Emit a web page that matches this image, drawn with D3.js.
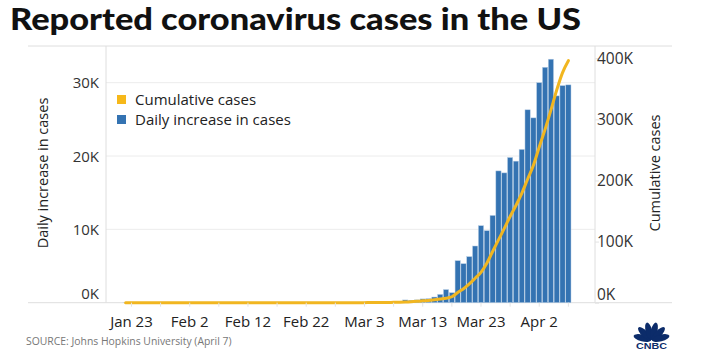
<!DOCTYPE html>
<html><head><meta charset="utf-8">
<script src="https://cdn.jsdelivr.net/npm/d3@7/dist/d3.min.js"></script>
<style>
html,body{margin:0;padding:0;background:#fff;}
svg{display:block;font-family:"Open Sans",Lato,sans-serif;}
</style></head><body>
<svg id="chart" width="701" height="359"></svg>
<script>
// ---- data ----
const startDate = "2020-01-22";
const dailyCases = [
  1,0,1,0,3,0,0,0,0,2,
  1,0,3,0,0,0,0,0,0,0,1,1,1,0,0,0,0,0,0,0,20,0,0,18,0,0,0,4,8,
  6,24,20,31,68,45,140,116,65,376,322,382,516,547,773,1133,1789,1362,
  5730,5320,6280,7730,10500,9820,11900,17970,17700,19800,19300,20900,26300,
  25200,30000,32100,33200,28200,29600,29700
];
const cumulativeCases = [
  1,1,2,2,5,5,5,5,5,7,
  8,8,11,11,11,11,11,11,11,11,12,12,13,13,13,13,13,13,13,13,35,35,35,53,53,53,53,57,65,
  80,100,120,150,220,300,420,560,700,1000,1500,2200,
  3000,3500,4700,6000,7300,9700,16700,22900,30700,40100,49700,64600,83800,102700,121600,141000,159000,178900,202000,
  225000,254800,283600,315000,348000,376500,396000
];
const leftTicks = [0,10000,20000,30000];
const rightTicks = [0,100000,200000,300000,400000];
const seriesNames = ["Cumulative cases","Daily increase in cases"];
const titleText = "Reported coronavirus cases in the US";
const sourceText = "SOURCE: Johns Hopkins University (April 7)";

// ---- setup ----
const svg = d3.select("#chart");
const parse = d3.timeParse("%Y-%m-%d");
const t0 = parse(startDate);
const dates = dailyCases.map((_, i) => d3.timeDay.offset(t0, i));
const fmt = d3.timeFormat("%b %-d");
const FONT = "'Open Sans', Lato, sans-serif";

const pTop = 46, pBottom = 302.7, pLeft = 106, pRight = 595;
const x = d3.scaleBand().domain(dates).range([123, 571]).paddingInner(0.1);
const yL = d3.scaleLinear().domain([0, 35000]).range([pBottom, pTop]);
const yR = d3.scaleLinear().domain([0, 420000]).range([pBottom, pTop]);
const kfmt = d => (d / 1000) + "K";
const gridC = "#dedede";

// title
svg.append("text").attr("x", 10).attr("y", 30)
  .attr("font-size", 30).attr("font-weight", 900).attr("fill", "#111")
  .attr("font-family", "Lato, sans-serif")
  .attr("textLength", 571).attr("lengthAdjust", "spacingAndGlyphs")
  .text(titleText);

// grid lines
svg.append("g").selectAll("line").data(leftTicks.filter(d => d > 0)).join("line")
  .attr("x1", pLeft).attr("x2", pRight)
  .attr("y1", d => yL(d)).attr("y2", d => yL(d))
  .attr("stroke", "#ececec").attr("stroke-width", 1);

// frame
const frame = svg.append("g").attr("stroke", gridC).attr("stroke-width", 1);
frame.append("line").attr("x1", 28).attr("x2", 672).attr("y1", pTop).attr("y2", pTop);
frame.append("line").attr("x1", 28).attr("x2", 672).attr("y1", pBottom).attr("y2", pBottom);
frame.append("line").attr("x1", pLeft).attr("x2", pLeft).attr("y1", pTop).attr("y2", pBottom);
frame.append("line").attr("x1", pRight).attr("x2", pRight).attr("y1", pTop).attr("y2", pBottom);

// bars
svg.append("g").selectAll("rect").data(dailyCases).join("rect")
  .attr("x", (d, i) => x(dates[i]))
  .attr("width", x.bandwidth())
  .attr("y", d => yL(d))
  .attr("height", d => pBottom - yL(d))
  .attr("fill", "#3473b2")
  .attr("stroke", "#b9cfe6").attr("stroke-width", 0.5);

// line
const line = d3.line()
  .x((d, i) => x(dates[i]) + x.bandwidth() / 2)
  .y(d => yR(d))
  .curve(d3.curveMonotoneX);
svg.append("path").datum(cumulativeCases)
  .attr("d", line).attr("fill", "none")
  .attr("stroke", "#f1b620").attr("stroke-width", 3)
  .attr("stroke-linecap", "round").attr("stroke-linejoin", "round");

// left axis
const gL = svg.append("g").attr("transform", `translate(${pLeft},0)`)
  .call(d3.axisLeft(yL).tickValues(leftTicks).tickFormat(kfmt).tickSize(0).tickPadding(7));
gL.select(".domain").remove();
gL.selectAll("text").attr("font-size", 15).attr("fill", "#333")
  .attr("font-family", FONT)
  .attr("dy", d => d === 0 ? "-0.25em" : "0.34em");

// right axis
const gR = svg.append("g").attr("transform", `translate(${pRight},0)`)
  .call(d3.axisRight(yR).tickValues(rightTicks).tickFormat(kfmt).tickSize(4).tickPadding(-2));
gR.select(".domain").remove();
gR.selectAll(".tick line").attr("stroke", "#e3e3e3");
gR.selectAll("text").attr("font-size", 15.5).attr("fill", "#333")
  .attr("font-family", FONT)
  .attr("dy", d => d === 0 ? "-0.2em" : "0.34em");

// x axis
const labelDates = dates.filter((d, i) => i >= 1 && (i - 1) % 10 === 0);
const tickDates = dates.filter((d, i) => i >= 1 && (i - 1) % 5 === 0);
const gX = svg.append("g").attr("transform", `translate(0,${pBottom})`)
  .call(d3.axisBottom(x).tickValues(tickDates).tickSize(4).tickPadding(10)
    .tickFormat(d => labelDates.some(l => +l === +d) ? fmt(d) : ""));
gX.select(".domain").remove();
gX.selectAll(".tick line").attr("stroke", "#e3e3e3");
gX.selectAll("text").attr("font-size", 15).attr("fill", "#222")
  .attr("font-family", FONT);

// axis titles
svg.append("text").attr("transform", "translate(48,173) rotate(-90)")
  .attr("text-anchor", "middle").attr("font-size", 14.5).attr("fill", "#222")
  .attr("font-family", FONT)
  .text("Daily increase in cases");
svg.append("text").attr("transform", "translate(660,173) rotate(-90)")
  .attr("text-anchor", "middle").attr("font-size", 14.5).attr("fill", "#222")
  .attr("font-family", FONT)
  .text("Cumulative cases");

// legend
const legColors = ["#f6b81a", "#3473b2"];
const leg = svg.append("g");
seriesNames.forEach((n, i) => {
  leg.append("rect").attr("x", 117).attr("y", 95 + i * 20).attr("width", 9).attr("height", 9)
    .attr("fill", legColors[i]);
  leg.append("text").attr("x", 135).attr("y", 99.5 + i * 20).attr("dy", "0.35em")
    .attr("font-size", 15).attr("fill", "#222").attr("font-family", FONT).text(n);
});

// source
svg.append("text").attr("x", 26).attr("y", 345).attr("font-size", 10.4)
  .attr("fill", "#777").attr("font-family", FONT).text(sourceText);

// CNBC logo
const logo = svg.append("g").attr("fill", "#0c2c6a");
const cx = 651.5, cy = 340.5;
d3.range(6).forEach(k => {
  const a = -75 + k * 30;
  logo.append("ellipse").attr("cx", 0).attr("cy", -9.5).attr("rx", 3.3).attr("ry", 9)
    .attr("transform", `translate(${cx},${cy}) rotate(${a})`);
});
logo.append("text").attr("x", cx).attr("y", 348.5).attr("text-anchor", "middle")
  .attr("font-size", 8.5).attr("font-weight", 900).attr("font-family", "Liberation Sans, Arial, sans-serif")
  .attr("textLength", 31).attr("lengthAdjust", "spacingAndGlyphs").text("CNBC");
</script>
</body></html>
